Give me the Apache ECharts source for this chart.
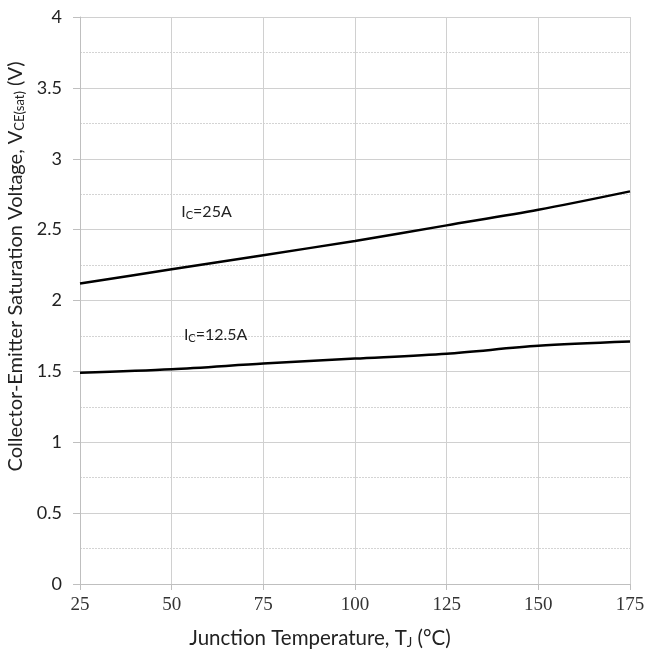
<!DOCTYPE html>
<html><head><meta charset="utf-8">
<script src="https://cdn.jsdelivr.net/npm/echarts@6/dist/echarts.min.js"></script>
<style>html,body{margin:0;padding:0;background:#fff}#c{width:646px;height:656px}</style>
</head><body><div id="c"></div>
<script>
var temps = [25, 50, 75, 100, 125, 150, 175];
var vce25A = [2.12, 2.22, 2.32, 2.42, 2.53, 2.64, 2.77];
var vce12_5A = [1.49, 1.515, 1.555, 1.59, 1.625, 1.68, 1.71];
var xTicks = [25, 50, 75, 100, 125, 150, 175];
var yTicks = [0, 0.5, 1, 1.5, 2, 2.5, 3, 3.5, 4];
var labelsPos = [[59.5, 2.625, 'I{sub|C}=25A'], [62, 1.755, 'I{sub|C}=12.5A']];

function pairs(xs, ys){ return xs.map(function(x,i){ return [x, ys[i]]; }); }
var sansFont = 'Lato, "Open Sans", sans-serif';
var richTitle = { sub: { fontSize: 13, fontFamily: sansFont, color: '#222', verticalAlign: 'bottom', padding: [7,0,0,0] } };
var richLbl = { sub: { fontSize: 11, fontFamily: sansFont, color: '#222', verticalAlign: 'bottom', padding: [7,0,0,0] } };

var chart = echarts.init(document.getElementById('c'), null, {renderer: 'canvas'});
chart.setOption({
  animation: false,
  backgroundColor: '#fff',
  grid: { left: 80, right: 16, top: 17, bottom: 72, containLabel: false, outerBoundsMode: 'none' },
  xAxis: {
    type: 'value', min: 25, max: 175, interval: 25,
    name: 'Junction Temperature, T{sub|J} (°C)',
    nameLocation: 'middle', nameGap: 44,
    nameTextStyle: { fontSize: 20.5, fontFamily: sansFont, color: '#222', rich: richTitle, padding: [0, 70, 0, 0] },
    axisLine: { show: true, lineStyle: { color: '#bfbfbf', width: 1 } },
    axisTick: { show: true, length: 6, lineStyle: { color: '#bfbfbf' } },
    axisLabel: { fontSize: 19, fontFamily: '"Liberation Serif", serif', color: '#333', margin: 12,
      formatter: function(v){ return xTicks.indexOf(v) >= 0 ? String(v) : ''; } },
    splitLine: { show: true, lineStyle: { color: '#d0d0d0', width: 1 } }
  },
  yAxis: {
    type: 'value', min: 0, max: 4, interval: 0.5,
    name: 'Collector-Emitter Saturation Voltage, V{sub|CE(sat)} (V)',
    nameLocation: 'middle', nameGap: 50,
    nameTextStyle: { fontSize: 20, fontFamily: sansFont, color: '#222', rich: richTitle, padding: [0, 0, 0, 68] },
    axisLine: { show: true, lineStyle: { color: '#bfbfbf', width: 1 } },
    axisTick: { show: true, length: 7, lineStyle: { color: '#bfbfbf' } },
    axisLabel: { fontSize: 18, fontFamily: sansFont, color: '#222', margin: 18,
      formatter: function(v){ return yTicks.indexOf(v) >= 0 ? String(v) : ''; } },
    splitLine: { show: true, lineStyle: { color: '#d0d0d0', width: 1 } },
    minorTick: { show: false, splitNumber: 2 },
    minorSplitLine: { show: true, lineStyle: { color: '#d4d4d4', type: [2, 1], width: 1 } }
  },
  series: [
    {
      type: 'line', data: pairs(temps, vce25A), smooth: 0.3, showSymbol: false,
      lineStyle: { color: '#000', width: 2.5 },
      markPoint: { symbol: 'circle', symbolSize: 0, silent: true,
        label: { show: true, position: 'inside', formatter: labelsPos[0][2], fontSize: 16, fontFamily: sansFont, color: '#222', rich: richLbl },
        data: [{ coord: [labelsPos[0][0], labelsPos[0][1]] }] }
    },
    {
      type: 'line', data: pairs(temps, vce12_5A), smooth: 0.3, showSymbol: false,
      lineStyle: { color: '#000', width: 2.5 },
      markPoint: { symbol: 'circle', symbolSize: 0, silent: true,
        label: { show: true, position: 'inside', formatter: labelsPos[1][2], fontSize: 16, fontFamily: sansFont, color: '#222', rich: richLbl },
        data: [{ coord: [labelsPos[1][0], labelsPos[1][1]] }] }
    }
  ]
});
</script></body></html>
